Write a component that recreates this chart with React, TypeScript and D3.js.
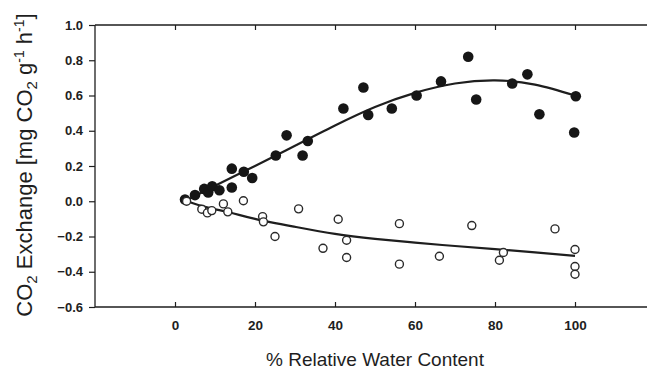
import { useEffect, useRef } from 'react';
import * as d3 from 'd3';

// filled circles (upper series)
const filledX = [2.5, 5, 7.3, 8.3, 9.3, 11.1, 14.2, 14.2, 17.2, 19.3, 25.2, 27.9, 31.9, 33.2, 42.1, 47.1, 48.3, 54.2, 60.4, 66.5, 73.3, 75.3, 84.3, 88.1, 91.1, 100.2, 99.8];
const filledY = [0.01, 0.035, 0.07, 0.05, 0.085, 0.062, 0.078, 0.185, 0.167, 0.132, 0.26, 0.374, 0.26, 0.342, 0.526, 0.645, 0.49, 0.526, 0.6, 0.68, 0.82, 0.577, 0.668, 0.72, 0.494, 0.596, 0.39];

// open circles (lower series)
const openX = [2.9, 6.7, 8.1, 9.2, 12.1, 13.2, 17.1, 21.9, 22.1, 25, 30.9, 37, 40.8, 42.9, 42.9, 56.1, 56.1, 66.1, 74.2, 82.1, 81.1, 95, 100, 100, 100];
const openY = [0.0, -0.045, -0.066, -0.053, -0.015, -0.06, 0.003, -0.087, -0.117, -0.2, -0.043, -0.267, -0.102, -0.221, -0.319, -0.127, -0.357, -0.312, -0.138, -0.291, -0.335, -0.157, -0.274, -0.37, -0.414];

// fitted curves
const fitFilledX = [2.5, 10, 20, 30, 40, 50, 60, 70, 80, 90, 100];
const fitFilledY = [0.0, 0.088, 0.2, 0.315, 0.43, 0.535, 0.615, 0.668, 0.686, 0.662, 0.6];
const fitOpenX = [3, 8, 13.75, 20, 30, 40, 50, 60, 70, 80, 90, 100];
const fitOpenY = [0.0, -0.035, -0.064, -0.1, -0.145, -0.185, -0.213, -0.235, -0.254, -0.272, -0.29, -0.31];

const xTicks = [0, 20, 40, 60, 80, 100];
const yTicks = [-0.6, -0.4, -0.2, 0.0, 0.2, 0.4, 0.6, 0.8, 1.0];

const W = 647;
const H = 372;
const FONT = "'Liberation Sans', Arial, Helvetica, sans-serif";
const INK = '#1e1e1e';

const App = () => {
  const ref = useRef<SVGSVGElement>(null);

  useEffect(() => {
    if (!ref.current) return;
    const svg = d3.select(ref.current);
    svg.selectAll('*').remove();

    const x = d3.scaleLinear().domain([-20, 120]).range([95, 655]);
    const y = d3.scaleLinear().domain([-0.6, 1.0]).range([307, 25]);

    // frame: left, top, bottom lines
    const frame = svg.append('g')
      .attr('stroke', INK)
      .attr('stroke-width', 1.3)
      .attr('fill', 'none');
    frame.append('line').attr('x1', x(-20)).attr('x2', x(-20)).attr('y1', y(1.0)).attr('y2', y(-0.6));
    frame.append('line').attr('x1', x(-20)).attr('x2', W).attr('y1', y(1.0)).attr('y2', y(1.0));
    frame.append('line').attr('x1', x(-20)).attr('x2', W).attr('y1', y(-0.6)).attr('y2', y(-0.6));

    // left axis ticks and labels
    const left = svg.append('g')
      .attr('transform', `translate(${x(-20)},0)`)
      .call(d3.axisLeft(y)
        .tickValues(yTicks)
        .tickSize(6)
        .tickPadding(6)
        .tickFormat(d3.format('.1f'))
      );
    left.select('.domain').remove();
    left.selectAll('.tick line').attr('stroke', INK).attr('stroke-width', 1.2);
    left.selectAll('text')
      .attr('fill', INK)
      .style('font-family', FONT)
      .style('font-size', '13px')
      .style('font-weight', 'bold');

    // bottom axis (inward ticks)
    const bottom = svg.append('g')
      .attr('transform', `translate(0,${y(-0.6)})`)
      .call(d3.axisBottom(x)
        .tickValues(xTicks)
        .tickSizeInner(-5)
        .tickSizeOuter(0)
        .tickPadding(13)
      );
    bottom.select('.domain').remove();
    bottom.selectAll('.tick line').attr('stroke', INK).attr('stroke-width', 1.2);
    bottom.selectAll('text')
      .attr('fill', INK)
      .style('font-family', FONT)
      .style('font-size', '13.5px')
      .style('font-weight', 'bold');

    // top axis (inward ticks, no labels)
    const top = svg.append('g')
      .attr('transform', `translate(0,${y(1.0)})`)
      .call(d3.axisTop(x)
        .tickValues(xTicks)
        .tickSizeInner(-5)
        .tickSizeOuter(0)
        .tickFormat(() => '')
      );
    top.select('.domain').remove();
    top.selectAll('.tick line').attr('stroke', INK).attr('stroke-width', 1.2);

    // fitted curves
    const line = d3.line<[number, number]>()
      .x(d => x(d[0]))
      .y(d => y(d[1]))
      .curve(d3.curveNatural);

    svg.append('path')
      .datum(fitFilledX.map((v, i) => [v, fitFilledY[i]] as [number, number]))
      .attr('d', line)
      .attr('fill', 'none')
      .attr('stroke', INK)
      .attr('stroke-width', 2.2);

    svg.append('path')
      .datum(fitOpenX.map((v, i) => [v, fitOpenY[i]] as [number, number]))
      .attr('d', line)
      .attr('fill', 'none')
      .attr('stroke', INK)
      .attr('stroke-width', 2.2);

    // filled points
    svg.append('g')
      .selectAll('circle')
      .data(filledX.map((v, i) => [v, filledY[i]]))
      .enter()
      .append('circle')
      .attr('cx', d => x(d[0]))
      .attr('cy', d => y(d[1]))
      .attr('r', 5.3)
      .attr('fill', '#161616');

    // open points
    svg.append('g')
      .selectAll('circle')
      .data(openX.map((v, i) => [v, openY[i]]))
      .enter()
      .append('circle')
      .attr('cx', d => x(d[0]))
      .attr('cy', d => y(d[1]))
      .attr('r', 4)
      .attr('fill', 'white')
      .attr('stroke', '#2a2a2a')
      .attr('stroke-width', 1.4);

    // x axis title
    svg.append('text')
      .attr('x', x(50))
      .attr('y', 366)
      .attr('text-anchor', 'middle')
      .attr('fill', INK)
      .style('font-family', FONT)
      .style('font-size', '19px')
      .text('% Relative Water Content');

    // y axis title with sub/superscripts
    const yt = svg.append('text')
      .attr('transform', 'translate(32,165) rotate(-90)')
      .attr('text-anchor', 'middle')
      .attr('fill', INK)
      .style('font-family', FONT)
      .style('font-size', '22px');
    yt.append('tspan').text('CO');
    yt.append('tspan').attr('dy', 5).style('font-size', '15px').text('2');
    yt.append('tspan').attr('dy', -5).text(' Exchange [mg CO');
    yt.append('tspan').attr('dy', 5).style('font-size', '15px').text('2');
    yt.append('tspan').attr('dy', -5).text(' g');
    yt.append('tspan').attr('dy', -8).style('font-size', '14px').text('-1');
    yt.append('tspan').attr('dy', 8).text(' h');
    yt.append('tspan').attr('dy', -8).style('font-size', '14px').text('-1');
    yt.append('tspan').attr('dy', 8).text(']');
  }, []);

  return (
    <svg
      ref={ref}
      width={W}
      height={H}
      style={{ position: 'absolute', left: 0, top: 0, background: 'white' }}
    />
  );
};

export default App;
